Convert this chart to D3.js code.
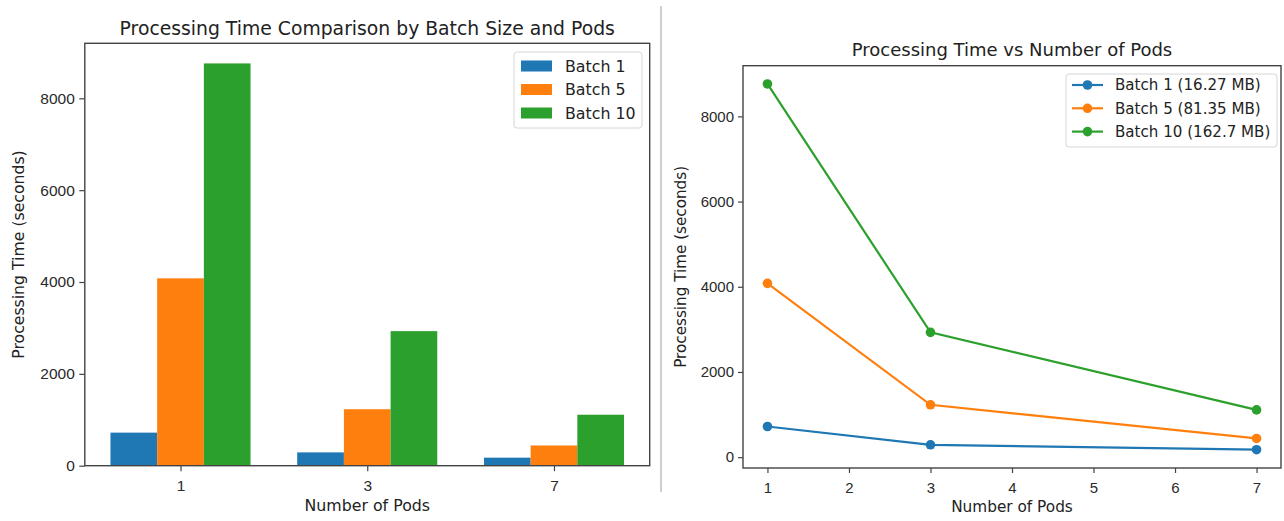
<!DOCTYPE html>
<html>
<head>
<meta charset="utf-8">
<script src="https://cdn.jsdelivr.net/npm/d3@7"></script>
<style>
  body { margin: 0; background: #fff; }
  svg { display: block; font-family: "DejaVu Sans", sans-serif; }
  .axis path, .axis line { stroke: #444; stroke-width: 1.2; }
  .axis text { fill: #2a2a2a; }
</style>
</head>
<body>
<svg id="chart" width="1284" height="521"></svg>
<script>
// data
const pods = [1, 3, 7];
const seriesNames = ["Batch 1", "Batch 5", "Batch 10"];
const lineNames = ["Batch 1 (16.27 MB)", "Batch 5 (81.35 MB)", "Batch 10 (162.7 MB)"];
const batch1 = [720, 290, 175];
const batch5 = [4080, 1230, 440];
const batch10 = [8760, 2930, 1110];
const yTicks = [0, 2000, 4000, 6000, 8000];
const lineXTicks = [1, 2, 3, 4, 5, 6, 7];
const colors = ["#1f77b4", "#ff7f0e", "#2ca02c"];

const series = [batch1, batch5, batch10];
const svg = d3.select("#chart");

// separator between the two panels
svg.append("line")
    .attr("x1", 661).attr("x2", 661)
    .attr("y1", 6).attr("y2", 492)
    .attr("stroke", "#cfcfcf").attr("stroke-width", 2);

// ---------- left: grouped bars ----------
var bw = 0.25;
var xb = d3.scaleLinear().domain([-0.5125, 2.5125]).range([84.8, 649.7]);
var yb = d3.scaleLinear().domain([0, 8760 * 1.05]).range([465.7, 43.3]);

var left = svg.append("g");

series.forEach(function(vals, s) {
    left.append("g").selectAll("rect")
        .data(vals).enter()
        .append("rect")
        .attr("x", function(d, i) { return xb(i + (s - 1) * bw - bw / 2); })
        .attr("width", xb(bw) - xb(0))
        .attr("y", function(d) { return yb(d); })
        .attr("height", function(d) { return yb(0) - yb(d); })
        .attr("fill", colors[s]);
});

left.append("g")
    .attr("class", "axis")
    .attr("transform", "translate(0," + yb.range()[0] + ")")
    .call(d3.axisBottom(xb).tickValues([0, 1, 2]).tickFormat(function(d) { return pods[d]; })
        .tickSize(5.5).tickPadding(8.5))
    .call(function(g) { g.select(".domain").remove(); })
    .selectAll("text").style("font-size", "15.5px");

left.append("g")
    .attr("class", "axis")
    .attr("transform", "translate(" + xb.range()[0] + ",0)")
    .call(d3.axisLeft(yb).tickValues(yTicks).tickFormat(d3.format("d")).tickSize(5.5).tickPadding(4.5))
    .call(function(g) { g.select(".domain").remove(); })
    .selectAll("text").style("font-size", "15.5px");

left.append("rect")
    .attr("x", xb.range()[0]).attr("y", yb.range()[1])
    .attr("width", xb.range()[1] - xb.range()[0])
    .attr("height", yb.range()[0] - yb.range()[1])
    .attr("fill", "none").attr("stroke", "#444").attr("stroke-width", 1.4);

left.append("text")
    .attr("x", (xb.range()[0] + xb.range()[1]) / 2).attr("y", 35)
    .attr("text-anchor", "middle").style("font-size", "18.8px").attr("fill", "#222")
    .text("Processing Time Comparison by Batch Size and Pods");

left.append("text")
    .attr("x", (xb.range()[0] + xb.range()[1]) / 2).attr("y", 511)
    .attr("text-anchor", "middle").style("font-size", "15.8px").attr("fill", "#222")
    .text("Number of Pods");

left.append("text")
    .attr("transform", "translate(24," + (yb.range()[0] + yb.range()[1]) / 2 + ") rotate(-90)")
    .attr("text-anchor", "middle").style("font-size", "15.7px").attr("fill", "#222")
    .text("Processing Time (seconds)");

var legL = left.append("g").attr("transform", "translate(514,52)");
legL.append("rect")
    .attr("width", 128).attr("height", 76).attr("rx", 3)
    .attr("fill", "#fff").attr("fill-opacity", 0.8)
    .attr("stroke", "#d6d6d6");
seriesNames.forEach(function(name, i) {
    legL.append("rect")
        .attr("x", 7).attr("y", 8.5 + i * 23.5)
        .attr("width", 31).attr("height", 11)
        .attr("fill", colors[i]);
    legL.append("text")
        .attr("x", 51).attr("y", 19.8 + i * 23.5)
        .style("font-size", "15.8px").attr("fill", "#222")
        .text(name);
});

// ---------- right: lines ----------
var xl = d3.scaleLinear().domain([0.7, 7.3]).range([743, 1281]);
var yl = d3.scaleLinear().domain([-254, 9189]).range([468, 65.7]);

var right = svg.append("g");

var line = d3.line()
    .x(function(d, i) { return xl(pods[i]); })
    .y(function(d) { return yl(d); });

series.forEach(function(vals, s) {
    right.append("path")
        .datum(vals)
        .attr("d", line)
        .attr("fill", "none")
        .attr("stroke", colors[s])
        .attr("stroke-width", 2.2);
    right.append("g").selectAll("circle")
        .data(vals).enter()
        .append("circle")
        .attr("cx", function(d, i) { return xl(pods[i]); })
        .attr("cy", function(d) { return yl(d); })
        .attr("r", 4.8)
        .attr("fill", colors[s]);
});

right.append("g")
    .attr("class", "axis")
    .attr("transform", "translate(0," + yl.range()[0] + ")")
    .call(d3.axisBottom(xl).tickValues(lineXTicks).tickFormat(d3.format("d")).tickSize(5).tickPadding(9.5))
    .call(function(g) { g.select(".domain").remove(); })
    .selectAll("text").style("font-size", "15px");

right.append("g")
    .attr("class", "axis")
    .attr("transform", "translate(" + xl.range()[0] + ",0)")
    .call(d3.axisLeft(yl).tickValues(yTicks).tickFormat(d3.format("d")).tickSize(5).tickPadding(4))
    .call(function(g) { g.select(".domain").remove(); })
    .selectAll("text").style("font-size", "15px");

right.append("rect")
    .attr("x", xl.range()[0]).attr("y", yl.range()[1])
    .attr("width", xl.range()[1] - xl.range()[0])
    .attr("height", yl.range()[0] - yl.range()[1])
    .attr("fill", "none").attr("stroke", "#444").attr("stroke-width", 1.4);

right.append("text")
    .attr("x", (xl.range()[0] + xl.range()[1]) / 2).attr("y", 56)
    .attr("text-anchor", "middle").style("font-size", "18px").attr("fill", "#222")
    .text("Processing Time vs Number of Pods");

right.append("text")
    .attr("x", (xl.range()[0] + xl.range()[1]) / 2).attr("y", 512)
    .attr("text-anchor", "middle").style("font-size", "15.3px").attr("fill", "#222")
    .text("Number of Pods");

right.append("text")
    .attr("transform", "translate(686," + (yl.range()[0] + yl.range()[1]) / 2 + ") rotate(-90)")
    .attr("text-anchor", "middle").style("font-size", "15.2px").attr("fill", "#222")
    .text("Processing Time (seconds)");

var legR = right.append("g").attr("transform", "translate(1066,74)");
legR.append("rect")
    .attr("width", 211).attr("height", 73).attr("rx", 3)
    .attr("fill", "#fff").attr("fill-opacity", 0.8)
    .attr("stroke", "#d6d6d6");
lineNames.forEach(function(name, i) {
    var cy = 11 + i * 23.3;
    legR.append("line")
        .attr("x1", 6).attr("x2", 37)
        .attr("y1", cy).attr("y2", cy)
        .attr("stroke", colors[i]).attr("stroke-width", 2.2);
    legR.append("circle")
        .attr("cx", 21.5).attr("cy", cy).attr("r", 4.8)
        .attr("fill", colors[i]);
    legR.append("text")
        .attr("x", 49).attr("y", cy + 5.4)
        .style("font-size", "15.1px").attr("fill", "#222")
        .text(name);
});
</script>
</body>
</html>
